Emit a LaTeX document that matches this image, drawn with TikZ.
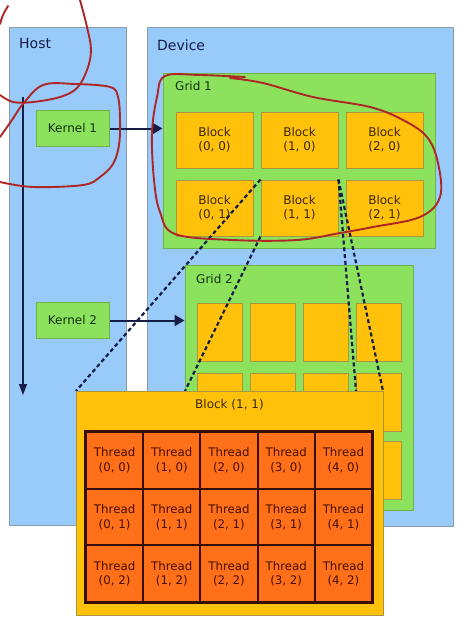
\documentclass[tikz,border=0pt]{standalone}
\usepackage{fontspec}
\setmainfont{DejaVu Sans}
\usetikzlibrary{arrows.meta}
\definecolor{panelblue}{RGB}{152,202,250}
\definecolor{panelline}{RGB}{140,155,170}
\definecolor{gridgreen}{RGB}{140,226,92}
\definecolor{greenline}{RGB}{112,180,80}
\definecolor{blockyellow}{RGB}{255,193,10}
\definecolor{blockline}{RGB}{170,150,60}
\definecolor{blocktext}{RGB}{60,40,5}
\definecolor{threadorange}{RGB}{255,112,24}
\definecolor{threadline}{RGB}{55,15,0}
\definecolor{threadtext}{RGB}{70,15,0}
\definecolor{navy}{RGB}{20,30,70}
\definecolor{greentext}{RGB}{15,50,15}
\definecolor{annotred}{RGB}{175,38,38}
\tikzset{
  panel/.style={draw=panelline, fill=panelblue, line width=1pt, inner sep=0pt},
  greenbox/.style={draw=greenline, fill=gridgreen, line width=1pt, inner sep=0pt},
  kernelbox/.style={greenbox, minimum width=73pt, minimum height=36pt, font=\fontsize{12}{14}\selectfont, text=greentext},
  blockbox/.style={draw=blockline, fill=blockyellow, line width=1pt, inner sep=0pt, align=center,
    font=\fontsize{12}{14}\selectfont, text=blocktext},
  gblock/.style={blockbox, minimum width=77pt, minimum height=56pt},
  sblock/.style={blockbox, minimum width=45pt, minimum height=58pt},
  threadbox/.style={draw=threadline, fill=threadorange, line width=2pt, inner sep=0pt, align=center,
    minimum width=57.2pt, minimum height=56.7pt, font=\fontsize{11.8}{14.5}\selectfont, text=threadtext},
  title/.style={font=\fontsize{14}{16}\selectfont, text=navy, inner sep=0pt},
  gridtitle/.style={font=\fontsize{12}{14}\selectfont, text=greentext, inner sep=0pt},
  launch/.style={draw=navy, line width=2pt, -{Triangle[length=10pt,width=11pt]}},
  zoomline/.style={draw=navy, line width=2.2pt, dash pattern=on 4pt off 2.8pt},
  annot/.style={draw=annotred, line width=1.9pt, line cap=round, line join=round}
}
\begin{document}
\begin{tikzpicture}[x=1pt,y=-1pt]
\useasboundingbox[fill=white] (0,0) rectangle (467,630);
% panels
\node[panel, minimum width=117pt, minimum height=498pt] (host) at (67.5,276) {};
\node[panel, minimum width=306pt, minimum height=499pt] (device) at (300,276.5) {};
\node[title, anchor=base west] (hostlbl) at (19,48) {Host};
\node[title, anchor=base west] (devlbl) at (157,50) {Device};
% grid 1
\node[greenbox, minimum width=272pt, minimum height=175pt] (grid1) at (299,160.5) {};
\node[gridtitle, anchor=base west] (g1lbl) at (175,90) {Grid 1};
\node[gblock] (b00) at (214.5,140) {Block\\(0, 0)};
\node[gblock] (b10) at (299.5,140) {Block\\(1, 0)};
\node[gblock] (b20) at (384.5,140) {Block\\(2, 0)};
\node[gblock] (b01) at (214.5,208) {Block\\(0, 1)};
\node[gblock] (b11) at (299.5,208) {Block\\(1, 1)};
\node[gblock] (b21) at (384.5,208) {Block\\(2, 1)};
% grid 2
\node[greenbox, minimum width=228pt, minimum height=245pt] (grid2) at (299,387.5) {};
\node[gridtitle, anchor=base west] (g2lbl) at (196,283) {Grid 2};
\foreach \c/\x in {0/219.5,1/273,2/325.5,3/379}{
  \foreach \r/\y in {0/332,1/402,2/470.5}{
    \node[sblock] (s\c\r) at (\x,\y) {};
  }
}
% kernels
\node[kernelbox] (k1) at (72.5,128.5) {Kernel 1};
\node[kernelbox] (k2) at (72.5,320.5) {Kernel 2};
\draw[launch] (k1.east) -- (k1.east -| grid1.west);
\draw[launch] (k2.east) -- (k2.east -| grid2.west);
% host timeline
\coordinate (tstart) at (23,97);
\coordinate (tend) at (23,395);
\draw[draw=navy, line width=1.2pt, -{Triangle[length=11pt,width=8pt]}] (tstart) -- (tend);
% zoom lines
\coordinate (cl) at (185,391);
\coordinate (cr) at (356,391);
\coordinate (bigtl) at (76,391);
\coordinate (bigtr) at (383,391);
\draw[zoomline] (b11.north west) -- (bigtl);
\draw[zoomline] (b11.south west) -- (cl);
\draw[zoomline] (b11.north east) -- (cr);
\draw[zoomline] (b11.north east) -- (bigtr);
\node[blockbox, minimum width=307pt, minimum height=224pt] (big) at (229.5,503) {};
\node[anchor=base, inner sep=0pt, font=\fontsize{12}{14}\selectfont, text=blocktext] (biglbl) at (229.5,408) {Block (1, 1)};
\foreach \c in {0,...,4}{
  \foreach \r in {0,1,2}{
    \node[threadbox] (t\c\r) at ({86+28.6+57.2*\c},{432+28.35+56.7*\r}) {Thread\\(\c, \r)};
  }
}
\draw[draw=threadline, line width=2.2pt] (t00.north west) rectangle (t42.south east);
% red hand-drawn annotations
\draw[annot] plot[smooth, tension=0.6] coordinates {(80,0) (87,27) (91,50) (87,70) (77,88) (60,97) (33,102) (13,102) (0,95)};
\draw[annot] plot[smooth, tension=0.6] coordinates {(8,6) (3,15) (0,24)};
\draw[annot] plot[smooth, tension=0.6] coordinates {(0,137) (12,120) (23,104) (43,85) (75,84) (110,87) (118,97) (120,120) (119,145) (113,164) (100,177) (83,185) (33,187) (0,182)};
\draw[annot] plot[smooth, tension=0.6] coordinates {(245,77) (200,75) (165,76) (157,97) (152,133) (154,180) (160,212) (175,234) (233,240) (297,240) (340,233) (373,227) (420,217) (440,197) (438,163) (427,137) (403,120) (370,107) (313,97) (263,83) (230,78)};
\end{tikzpicture}
\end{document}
